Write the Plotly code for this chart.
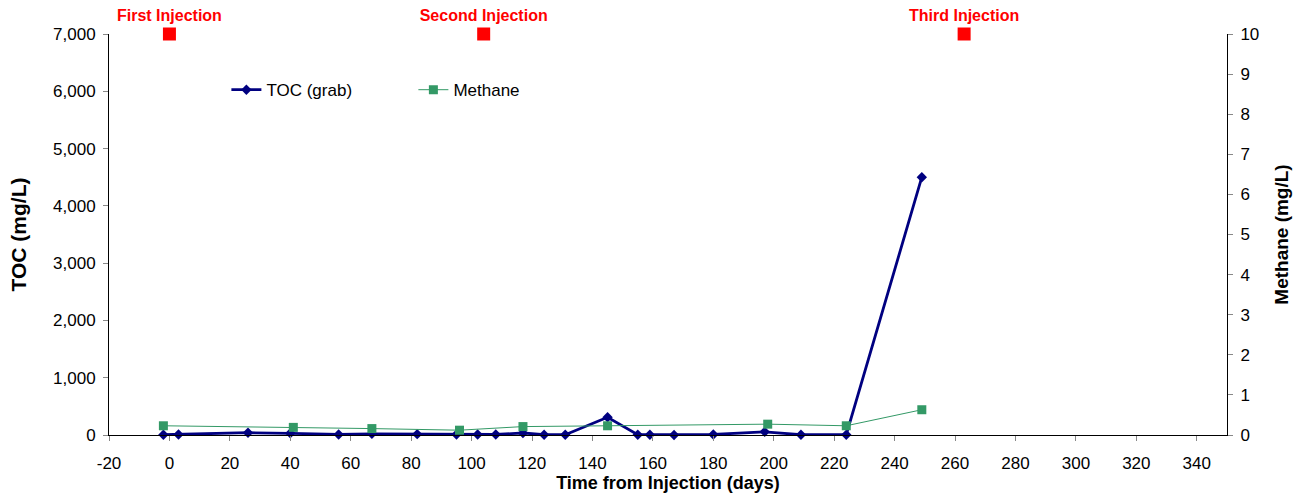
import plotly.graph_objects as go

toc_days = [-2, 3, 26, 40, 56, 67, 82, 95, 102, 108, 117, 124, 131, 145, 155, 159, 167, 180, 197, 209, 224, 249]
toc_vals = [5, 10, 40, 30, 10, 20, 15, 10, 10, 10, 35, 5, 5, 310, 5, 5, 0, 10, 55, 5, 5, 4500]

ch4_days = [-2, 41, 67, 96, 117, 145, 198, 224, 249]
ch4_vals = [0.23, 0.19, 0.16, 0.12, 0.21, 0.23, 0.27, 0.23, 0.63]

inj_days = [0, 104, 263]
inj_labels = ["First Injection", "Second Injection", "Third Injection"]
inj_level = [7000, 7000, 7000]

x_ticks = list(range(-20, 341, 20))
x_ticktext = [str(v) for v in x_ticks]
y1_ticks = list(range(0, 7001, 1000))
y2_ticks = list(range(0, 11))

FONT = "Liberation Sans, Arial, sans-serif"

fig = go.Figure()
fig.add_trace(go.Scatter(
    x=toc_days, y=toc_vals, name="TOC (grab)", mode="lines+markers",
    line=dict(color="#000080", width=2.8),
    marker=dict(symbol="diamond", size=8, color="#000080"),
    cliponaxis=False,
))
fig.add_trace(go.Scatter(
    x=ch4_days, y=ch4_vals, name="Methane", mode="lines+markers", yaxis="y2",
    line=dict(color="#339966", width=1),
    marker=dict(symbol="square", size=9, color="#339966"),
    cliponaxis=False,
))
fig.add_trace(go.Scatter(
    x=inj_days, y=inj_level, mode="markers+text", text=inj_labels,
    textposition="top center", showlegend=False,
    marker=dict(symbol="square", size=13, color="#FF0000"),
    textfont=dict(family=FONT, size=16, color="#FF0000", weight="bold"),
    cliponaxis=False,
))

fig.update_layout(
    width=1307, height=497,
    margin=dict(l=109, r=80, t=34, b=62),
    paper_bgcolor="white", plot_bgcolor="white",
    font=dict(family=FONT, size=17, color="black"),
    showlegend=True,
    legend=dict(orientation="h", x=0.105, y=0.86, xanchor="left", yanchor="middle",
                font=dict(size=17), bgcolor="rgba(0,0,0,0)", itemwidth=30,
                entrywidth=142, tracegroupgap=0),
    xaxis=dict(range=[-20, 350], tickvals=x_ticks, ticktext=x_ticktext,
               showgrid=False, zeroline=False,
               showline=True, linecolor="black", linewidth=1,
               ticks="outside", ticklen=5, tickcolor="#888888",
               tickfont=dict(size=17), ticklabelstandoff=8,
               title=dict(text="<b>Time from Injection (days)</b>", font=dict(size=18), standoff=0)),
    yaxis=dict(range=[0, 7000], tickvals=y1_ticks, tickformat=",", showgrid=False, zeroline=False,
               showline=True, linecolor="black", linewidth=1,
               ticks="outside", ticklen=5, tickcolor="#888888",
               tickfont=dict(size=17), ticklabelstandoff=4,
               title=dict(text="<b>TOC (mg/L)</b>", font=dict(size=21), standoff=20)),
    yaxis2=dict(range=[0, 10], tickvals=y2_ticks, overlaying="y", side="right",
                showgrid=False, zeroline=False,
                showline=True, linecolor="black", linewidth=1,
                ticks="outside", ticklen=5, tickcolor="#888888",
                tickfont=dict(size=17), ticklabelstandoff=4,
                title=dict(text="<b>Methane (mg/L)</b>", font=dict(size=19), standoff=16)),
)

fig.write_html("out.html")
